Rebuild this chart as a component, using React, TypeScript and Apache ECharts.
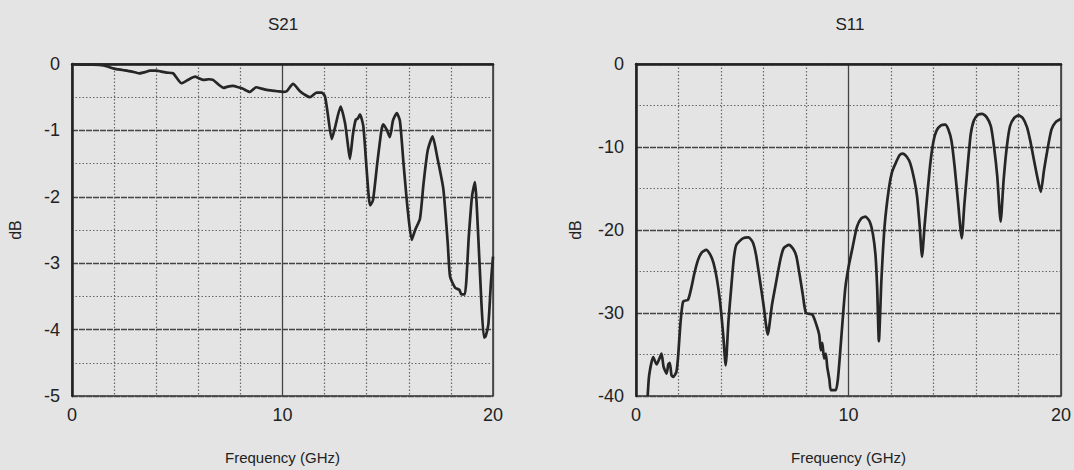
import React, { useEffect, useRef } from "react";
import * as echarts from "echarts";

const xTicks = [0, 10, 20];

const s21Freq = [
  0, 0.5, 1.0, 1.5, 2.0, 2.4, 2.8, 3.2, 3.5, 3.7, 4.0, 4.2, 4.5, 4.8, 5.0, 5.2, 5.5, 5.85, 6.0, 6.25,
  6.5, 6.7, 7.0, 7.2, 7.4, 7.65, 7.9, 8.1, 8.45, 8.75, 9.0, 9.25, 9.5, 9.75, 10.0, 10.2, 10.5, 10.83,
  11.05, 11.3, 11.62, 11.86, 12.02, 12.15, 12.34, 12.5, 12.76, 12.97, 13.1, 13.2, 13.35, 13.48, 13.58,
  13.68, 13.84, 14.0, 14.16, 14.3, 14.5, 14.7, 14.79, 14.95, 15.1, 15.25, 15.43, 15.58, 15.75, 15.95,
  16.14, 16.3, 16.53, 16.7, 16.9, 17.13, 17.35, 17.64, 17.85, 17.96, 18.2, 18.4, 18.5, 18.66, 18.85,
  19.0, 19.14, 19.3, 19.45, 19.57, 19.65, 19.78, 19.9, 20.0,
];
const s21Db = [
  0, -0.01, -0.01, -0.02, -0.07, -0.09, -0.11, -0.14, -0.12, -0.1, -0.1, -0.11, -0.13, -0.14, -0.22,
  -0.29, -0.24, -0.19, -0.21, -0.24, -0.23, -0.24, -0.32, -0.36, -0.34, -0.33, -0.35, -0.37, -0.42,
  -0.35, -0.37, -0.39, -0.4, -0.41, -0.42, -0.41, -0.3, -0.41, -0.46, -0.5, -0.43, -0.43, -0.49, -0.75,
  -1.13, -0.95, -0.64, -0.89, -1.2, -1.43, -1.05, -0.84, -0.82, -0.76, -0.94, -1.6, -2.13, -2.05, -1.5,
  -1.0, -0.91, -0.99, -1.1, -0.85, -0.74, -0.86, -1.5, -2.2, -2.65, -2.5, -2.33, -1.8, -1.3, -1.09,
  -1.4, -1.88, -2.7, -3.2, -3.37, -3.4, -3.47, -3.47, -2.6, -2.0, -1.78, -2.6, -3.6, -4.12, -4.1,
  -3.92, -3.3, -2.9,
];

const s11Freq = [
  0.55, 0.62, 0.81, 0.97, 1.1, 1.2, 1.3, 1.44, 1.52, 1.59, 1.67, 1.75, 1.9, 1.98, 2.1, 2.22, 2.45,
  2.6, 2.75, 2.92, 3.1, 3.3, 3.5, 3.65, 3.8, 3.95, 4.1, 4.22, 4.35, 4.48, 4.6, 4.72, 5.03, 5.3, 5.5,
  5.65, 5.8, 6.0, 6.2, 6.4, 6.6, 6.8, 6.95, 7.2, 7.4, 7.55, 7.7, 7.85, 8.0, 8.3, 8.5, 8.62, 8.7, 8.77,
  8.85, 8.93, 9.0, 9.1, 9.17, 9.4, 9.5, 9.6, 9.72, 9.85, 10.0, 10.2, 10.4, 10.6, 10.8, 11.0, 11.15,
  11.27, 11.35, 11.43, 11.55, 11.7, 11.9, 12.05, 12.21, 12.4, 12.55, 12.75, 12.91, 13.1, 13.23, 13.35,
  13.46, 13.58, 13.7, 13.85, 14.0, 14.15, 14.35, 14.55, 14.7, 14.85, 15.0, 15.15, 15.33, 15.45, 15.6,
  15.75, 15.9, 16.1, 16.3, 16.5, 16.7, 16.85, 17.0, 17.16, 17.3, 17.45, 17.6, 17.8, 18.0, 18.2, 18.4,
  18.55, 18.7, 18.9, 19.05, 19.2, 19.35, 19.55, 19.75, 20.0,
];
const s11Db = [
  -40, -37.5, -35.3, -36.2, -35.5, -34.9, -36.5, -37.3, -36.2, -36.0, -37.5, -37.7, -37.1, -35.3, -31,
  -28.6, -28.4, -27, -25.2, -23.6, -22.7, -22.4, -23.0, -24.0, -25.8, -28.5, -32.5, -36.3, -31, -27,
  -23.5, -21.8, -21.0, -20.9, -21.5, -23.0, -25.5, -29, -32.6, -29, -26.2, -23.5, -22.2, -21.8, -22.3,
  -23.2, -25.4, -27.8, -30.0, -30.2, -31.5, -32.6, -34.5, -33.6, -35.5, -34.9, -36.5, -38, -39.3, -39.3,
  -38, -35, -31, -27, -24.5, -22, -19.6, -18.6, -18.4, -19.0, -20.5, -23, -27, -33.4, -26, -19.5, -15,
  -13, -12.0, -11.0, -10.8, -11.2, -12.0, -14, -16, -19.5, -23.2, -19.5, -16, -12, -9.3, -8, -7.4, -7.3,
  -7.9, -9.3, -12.5, -16.5, -21, -17, -12.5, -8.5, -6.8, -6.1, -6.0, -6.4, -7.5, -10, -13.5, -19, -14,
  -10, -7.5, -6.5, -6.2, -6.5, -7.6, -9.2, -11.2, -13.8, -15.4, -12.8, -10.5, -7.9, -7.0, -6.6,
];

const FONT = "'Liberation Sans', Arial, Helvetica, sans-serif";
const TEXT = "#222";

function xAxisCfg(gridIndex: number) {
  return {
    type: "value",
    gridIndex,
    min: xTicks[0],
    max: xTicks[xTicks.length - 1],
    interval: xTicks[1] - xTicks[0],
    name: "Frequency (GHz)",
    nameLocation: "middle",
    nameGap: 54,
    nameTextStyle: { fontFamily: FONT, fontSize: 15, color: TEXT },
    axisLine: { show: true, lineStyle: { color: "#222", width: 2.5 } },
    axisTick: { show: false },
    axisLabel: { fontFamily: FONT, fontSize: 18, color: TEXT, margin: 10 },
    splitLine: { show: true, lineStyle: { color: "#444", width: 1.3 } },
    minorTick: { show: false, splitNumber: 5 },
    minorSplitLine: { show: true, lineStyle: { color: "#666", width: 1.2, type: [1.5, 2] } },
  };
}

function yAxisCfg(gridIndex: number, min: number, interval: number, nameGap: number) {
  return {
    type: "value",
    gridIndex,
    min,
    max: 0,
    interval,
    name: "dB",
    nameLocation: "middle",
    nameGap,
    nameTextStyle: { fontFamily: FONT, fontSize: 16, color: TEXT },
    axisLine: { show: true, onZero: false, lineStyle: { color: "#222", width: 2.5 } },
    axisTick: { show: false },
    axisLabel: { fontFamily: FONT, fontSize: 18, color: TEXT, margin: 12 },
    splitLine: { show: true, lineStyle: { color: "#444", width: 1.3, type: [6, 1] } },
    minorTick: { show: false, splitNumber: 2 },
    minorSplitLine: { show: true, lineStyle: { color: "#666", width: 1.2, type: [1.5, 2] } },
  };
}

export default function App() {
  const ref = useRef<HTMLDivElement>(null);
  useEffect(() => {
    if (!ref.current) return;
    const chart = echarts.init(ref.current, undefined, { renderer: "svg" });
    const s21 = s21Freq.map((f, i) => [f, s21Db[i]]);
    const s11 = s11Freq.map((f, i) => [f, s11Db[i]]);
    chart.setOption({
      animation: false,
      backgroundColor: "#e4e4e4",
      grid: [
        { left: 72, top: 64, width: 421, height: 335, show: true, borderColor: "#333", borderWidth: 1.5, backgroundColor: "transparent" },
        { left: 636, top: 64, width: 427, height: 335, show: true, borderColor: "#333", borderWidth: 1.5, backgroundColor: "transparent" },
      ],
      graphic: [
        {
          type: "text",
          x: 283,
          y: 24,
          style: { text: "S21", font: `17px ${FONT}`, fill: TEXT, align: "center", verticalAlign: "middle", textAlign: "center", textVerticalAlign: "middle" },
        },
        {
          type: "text",
          x: 850,
          y: 24,
          style: { text: "S11", font: `17px ${FONT}`, fill: TEXT, align: "center", verticalAlign: "middle", textAlign: "center", textVerticalAlign: "middle" },
        },
      ],
      xAxis: [xAxisCfg(0), xAxisCfg(1)],
      yAxis: [yAxisCfg(0, -5, 1, 49), yAxisCfg(1, -40, 10, 53)],
      series: [
        {
          type: "line",
          xAxisIndex: 0,
          yAxisIndex: 0,
          data: s21,
          showSymbol: false,
          smooth: 0.2,
          lineStyle: { color: "#262626", width: 2.7 },
        },
        {
          type: "line",
          xAxisIndex: 1,
          yAxisIndex: 1,
          data: s11,
          showSymbol: false,
          smooth: 0.2,
          lineStyle: { color: "#262626", width: 2.7 },
        },
      ],
    });
    return () => chart.dispose();
  }, []);
  return (
    <div
      ref={ref}
      style={{ position: "fixed", left: 0, top: 0, width: 1074, height: 470 }}
    />
  );
}
